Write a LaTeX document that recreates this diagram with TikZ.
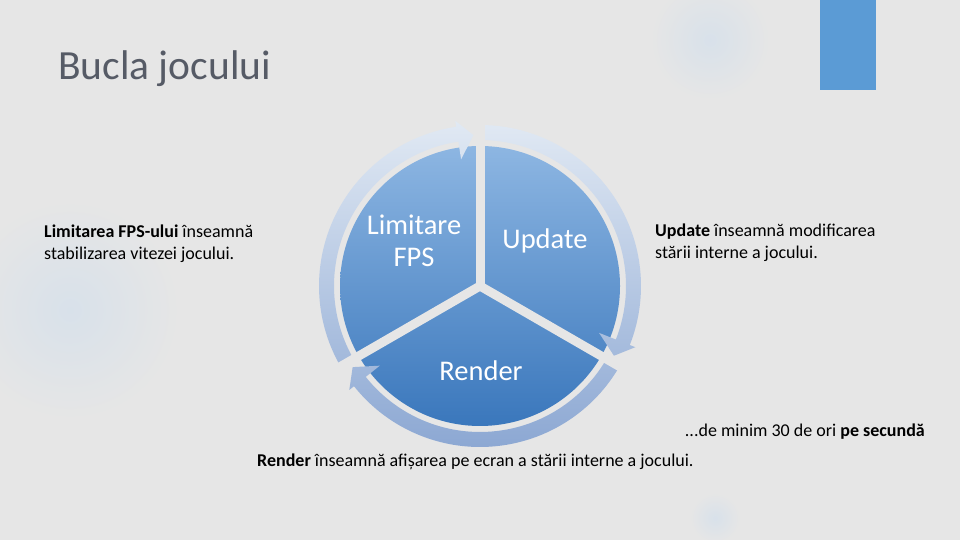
\documentclass[tikz,border=0pt]{standalone}
\usepackage{fontspec}
\setmainfont{Carlito}
\definecolor{bgcol}{HTML}{E6E6E6}
\definecolor{titlecol}{HTML}{565B66}
\definecolor{barcol}{HTML}{5B9BD5}
\definecolor{pietop}{HTML}{8DB6E2}
\definecolor{piebot}{HTML}{3A77BC}
\definecolor{ringtop}{HTML}{E2EAF4}
\definecolor{ringbot}{HTML}{8AA6D2}
\definecolor{bubble}{HTML}{D8E1EA}

\begin{document}
\begin{tikzpicture}[x=1pt, y=1pt, sector label/.style={text=white, font=\fontsize{28.5}{32}\selectfont, align=center}, note/.style={font=\fontsize{18}{22}\selectfont, align=left, inner sep=0pt}]% all lengths in px of the 960x540 slide
\fill[bgcol] (0,0) rectangle (960,540);
\useasboundingbox (0,0) rectangle (960,540);
\foreach \x/\y/\r in {710/500/60, 715/22/25, 70/230/110}{
    \shade[inner color=bubble, outer color=bgcol] (\x,\y) circle (\r pt);}
\fill[barcol] (820,450) rectangle (876,540);
\node[anchor=base west, inner sep=0pt, text=titlecol, font=\fontsize{41.5}{48}\selectfont] (title) at (58,460) {Bucla jocului};

\coordinate (c) at (480,254);
\shade[top color=pietop, bottom color=piebot] (c) circle (140pt);
\begin{scope}[shift={(c)}]
  \begin{scope}
    \clip \foreach \s/\t [evaluate=\t as \b using \t+6] in {210/92.5, 90/-27.5, 330/212.5}{
      (\s:161pt) arc[start angle=\s, end angle=\b, radius=161pt] -- (\b:167pt) -- (\t:151pt) -- (\b:128pt) -- (\b:146pt) arc[start angle=\b, end angle=\s, radius=146pt] -- cycle};
    \shade[top color=ringtop, bottom color=ringbot] (-170,-170) rectangle (170,170);
  \end{scope}
  \foreach \a in {90, 210, 330}
    \draw[bgcol, line width=9pt] (0,0) -- (\a:172pt);
\end{scope}

\node[sector label] (fps) at (414,299) {Limitare\\FPS};
\node[sector label, anchor=base] (upd) at (545,291) {Update};
\node[sector label, anchor=base] (rnd) at (481,159) {Render};

\node[note, anchor=base west] (fpsnote) at (44,280) {\textbf{Limitarea FPS-ului} înseamnă\\stabilizarea vitezei jocului.};
\node[note, anchor=base west] (updnote) at (655,281) {\textbf{Update} înseamnă modificarea\\stării interne a jocului.};
\node[note, anchor=base east] (freq) at (925,103) {...de minim 30 de ori \textbf{pe secundă}};
\node[note, anchor=base west] (rndnote) at (257,73) {\textbf{Render} înseamnă afișarea pe ecran a stării interne a jocului.};
\end{tikzpicture}
\end{document}
